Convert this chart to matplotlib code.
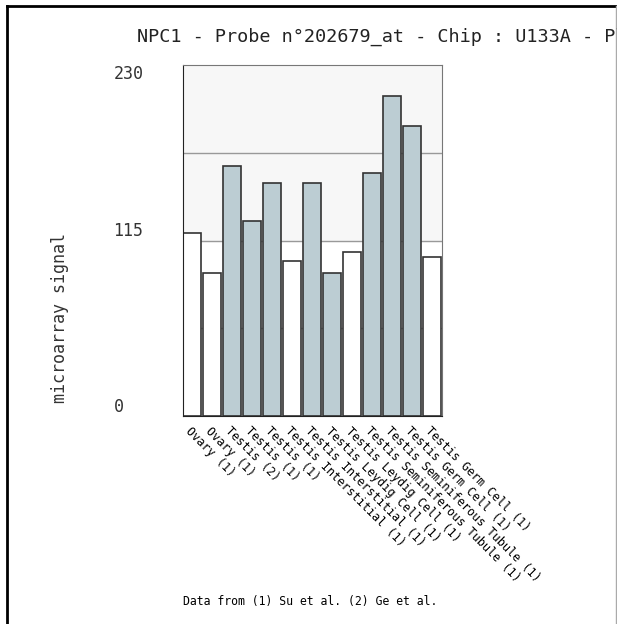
import numpy as np
import matplotlib.pyplot as plt
from matplotlib.lines import Line2D

plt.rcParams["font.family"] = "DejaVu Sans Mono"

labels = [
    "Ovary (1)", "Ovary (1)", "Testis (2)", "Testis (1)", "Testis (1)",
    "Testis Interstitial (1)", "Testis Interstitial (1)",
    "Testis Leydig Cell (1)", "Testis Leydig Cell (1)",
    "Testis Seminiferous Tubule (1)", "Testis Seminiferous Tubule (1)",
    "Testis Germ Cell (1)", "Testis Germ Cell (1)",
]
values = [120, 93.5, 164, 128, 152.5, 101.5, 152.5, 93.5, 107.5, 159.5, 210, 190, 104]
highlight = [False, False, True, True, True, False, True, True, False, True, True, True, False]
yticks = [0, 115, 230]
grid_levels = [57.5, 115, 172.5]

W, H = 617, 624
fig = plt.figure(figsize=(W / 100, H / 100), dpi=100)
ax = fig.add_axes([183 / W, 1 - 416 / H, 259 / W, 351 / H])

ax.axhspan(115, 230, color="#f7f7f7", zorder=0)
for g in grid_levels:
    ax.axhline(g, color="#999999", lw=1, zorder=1)

x = np.arange(len(values))
colors = ["#bccdd3" if h else "white" for h in highlight]
ax.bar(x, values, width=0.9, color=colors, edgecolor="#333333", linewidth=1.2, zorder=2)

ax.set_xlim(-0.46, 12.5)
ax.set_ylim(0, 230)

ax.set_xticks(x)
ax.set_xticklabels(labels, rotation=-45, ha="left", va="top",
                   rotation_mode="anchor", fontsize=8.5)
ax.tick_params(axis="x", length=0, pad=6)

ax.set_yticks(yticks)
ax.set_yticklabels([str(t) for t in yticks], fontsize=12, color="#333333")
ax.tick_params(axis="y", length=0, pad=50)
for lab, va in zip(ax.get_yticklabels(), ["bottom", "bottom", "top"]):
    lab.set_ha("left")
    lab.set_va(va)

ax.spines["left"].set_color("#222222")
ax.spines["bottom"].set_color("#222222")
ax.spines["top"].set_color("#777777")
ax.spines["right"].set_color("#777777")

# title runs past the right edge, as in the original page
fig.text(137 / W, 1 - 37 / H,
         "NPC1 - Probe n°202679_at - Chip : U133A - Platform : GPL96",
         fontsize=13.3, va="center", ha="left", color="#222222")
fig.text(60 / W, 1 - 318 / H, "microarray signal", rotation=90,
         fontsize=12, va="center", ha="center", color="#333333")
fig.text(183 / W, 1 - 601 / H, "Data from (1) Su et al. (2) Ge et al.",
         fontsize=8.3, va="center", ha="left")

# frame around the picture
fig.add_artist(Line2D([7 / W, 7 / W], [0, 1 - 6 / H], color="black", lw=2))
fig.add_artist(Line2D([7 / W, 1], [1 - 6 / H, 1 - 6 / H], color="black", lw=2))
fig.add_artist(Line2D([615.5 / W, 615.5 / W], [0, 1 - 6 / H], color="#aaaaaa", lw=1))

fig.savefig("out.png", dpi=100)
